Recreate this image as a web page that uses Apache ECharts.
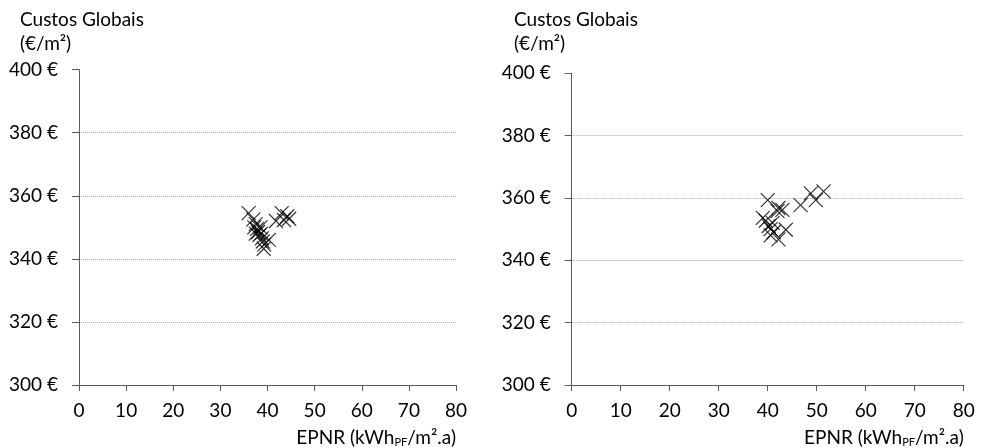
<!DOCTYPE html>
<html>
<head>
<meta charset="utf-8">
<script src="https://cdn.jsdelivr.net/npm/echarts@6/dist/echarts.min.js"></script>
<style>
  html, body { margin: 0; padding: 0; background: #fff; }
  #chart { width: 984px; height: 448px; }
</style>
</head>
<body>
<div id="chart"></div>
<script>
// Global cost (€/m²) versus non-renewable primary energy (kWh_PF/m².a)
var leftPoints = [
  [36.0, 354.5], [37.0, 352.5], [37.5, 351.0], [37.2, 350.0], [37.8, 349.5],
  [38.0, 348.5], [38.3, 347.5], [38.6, 348.0], [37.5, 348.0], [38.8, 346.5],
  [39.0, 345.5], [39.3, 344.5], [39.2, 343.2], [40.3, 346.0], [38.5, 350.0],
  [41.8, 352.0], [43.0, 354.5], [44.2, 353.5], [43.5, 352.3], [44.6, 352.7]
];
var rightPoints = [
  [40.0, 359.3], [42.2, 356.8], [43.0, 356.2], [42.0, 355.8], [46.7, 357.7],
  [48.8, 361.5], [49.8, 359.3], [51.4, 362.1], [39.0, 353.6], [39.6, 352.7],
  [40.2, 351.0], [40.6, 350.0], [41.2, 349.0], [42.2, 346.7], [43.7, 349.8],
  [40.6, 348.0], [41.0, 352.0]
];
var xTicks = { min: 0, max: 80, interval: 10 };
var yTicks = { min: 300, max: 400, interval: 20 };
var yTitle = 'Custos Globais\n(€/m²)';

var FONT = 'Lato';
var FS = 19;
var crossSymbol = 'path://M0,0L10,10M10,0L0,10';

function xAxisFor(gridIndex) {
  return {
    type: 'value', gridIndex: gridIndex,
    min: xTicks.min, max: xTicks.max, interval: xTicks.interval,
    axisLine: { show: true, lineStyle: { color: '#595959', width: 1 } },
    axisTick: { show: true, inside: false, length: 6, lineStyle: { color: '#595959' } },
    axisLabel: { color: '#000', fontFamily: FONT, fontSize: FS, margin: 16 },
    splitLine: { show: false },
    name: '{n|EPNR (kWh}{s|PF}{n|/m².a)}',
    nameLocation: 'end', nameGap: 0,
    nameTextStyle: {
      align: 'right', verticalAlign: 'top', padding: [42, 0, 0, 0],
      rich: {
        n: { fontFamily: FONT, fontSize: FS, color: '#000' },
        s: { fontFamily: FONT, fontSize: 11, color: '#000', padding: [10, 0, 0, 0] }
      }
    }
  };
}
function yAxisFor(gridIndex) {
  return {
    type: 'value', gridIndex: gridIndex,
    min: yTicks.min, max: yTicks.max, interval: yTicks.interval,
    axisLine: { show: true, lineStyle: { color: '#595959', width: 1 } },
    axisTick: { show: true, inside: false, length: 7, lineStyle: { color: '#595959' } },
    axisLabel: {
      color: '#000', fontFamily: FONT, fontSize: FS, margin: 21,
      formatter: function (v) { return v + ' €'; }
    },
    splitLine: {
      show: true,
      lineStyle: {
        type: 'dotted', width: 1,
        color: ['#a8a8a8', '#a8a8a8', '#a8a8a8', '#a8a8a8', '#a8a8a8', 'rgba(0,0,0,0)']
      }
    }
  };
}
function seriesFor(idx, data) {
  return {
    type: 'scatter', xAxisIndex: idx, yAxisIndex: idx, data: data,
    symbol: crossSymbol, symbolSize: 14,
    itemStyle: { color: 'rgba(0,0,0,0)', borderColor: '#000', borderWidth: 1.2 },
    emphasis: { disabled: true }, animation: false
  };
}

var chart = echarts.init(document.getElementById('chart'), null, { renderer: 'canvas' });
chart.setOption({
  animation: false,
  title: [
    { text: yTitle, left: 15, top: 3,
      textStyle: { fontFamily: FONT, fontSize: FS, fontWeight: 'normal', color: '#000', lineHeight: 24 } },
    { text: yTitle, left: 509, top: 3,
      textStyle: { fontFamily: FONT, fontSize: FS, fontWeight: 'normal', color: '#000', lineHeight: 24 } }
  ],
  grid: [
    { left: 79, right: 528, top: 69.6, bottom: 63 },
    { left: 571.7, right: 20.3, top: 73.3, bottom: 58.7 }
  ],
  xAxis: [xAxisFor(0), xAxisFor(1)],
  yAxis: [yAxisFor(0), yAxisFor(1)],
  series: [seriesFor(0, leftPoints), seriesFor(1, rightPoints)]
});
</script>
</body>
</html>
